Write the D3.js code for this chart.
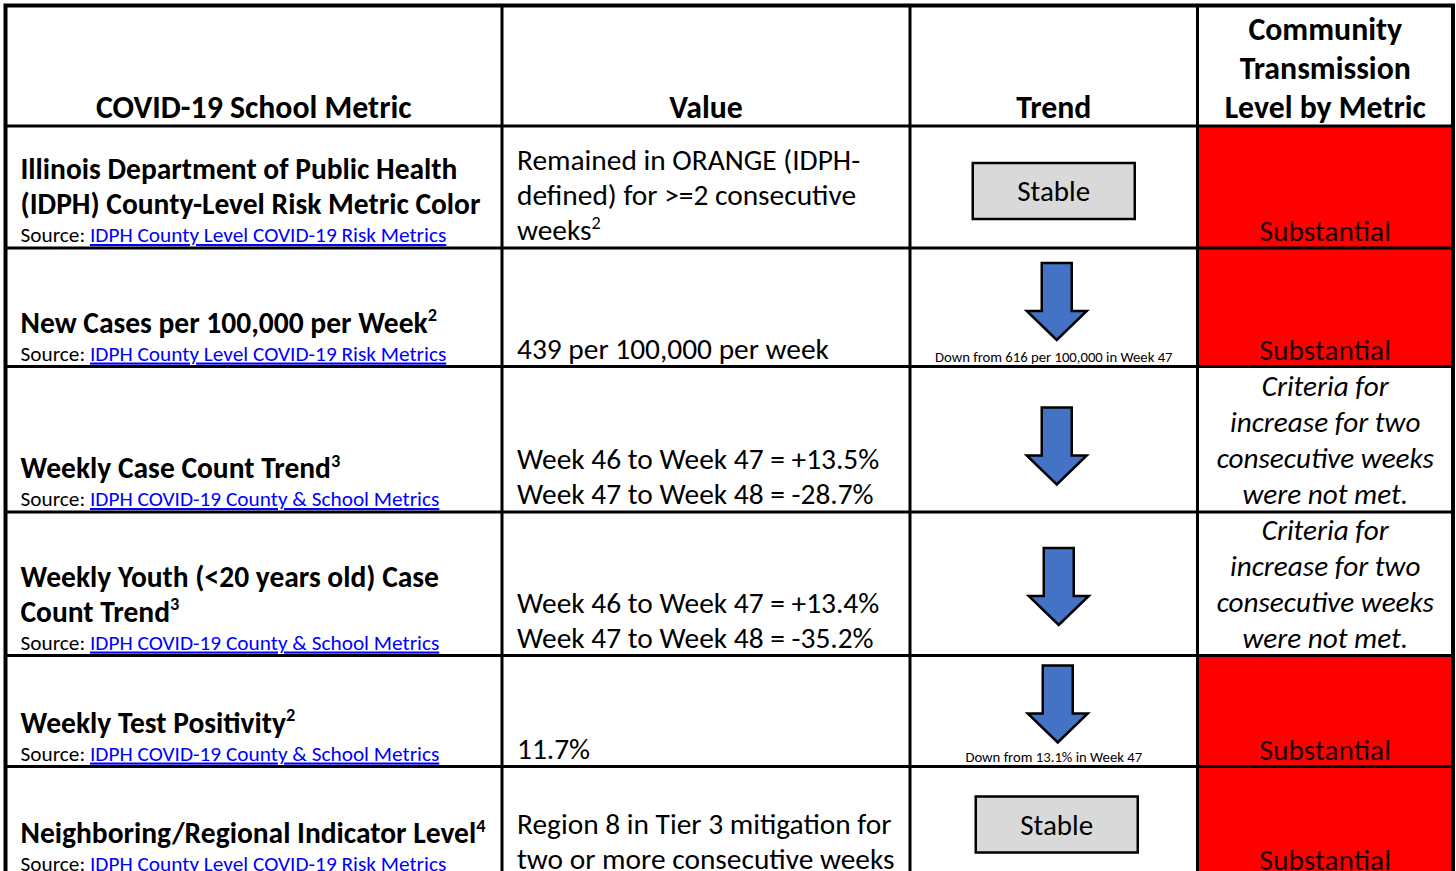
<!DOCTYPE html>
<html>
<head>
<meta charset="utf-8">
<script src="https://cdn.jsdelivr.net/npm/d3@7"></script>
<style>
    html, body { margin: 0; padding: 0; background: #fff; overflow: hidden; }
    svg { display: block; font-family: Calibri, Carlito, Lato, sans-serif; }
</style>
</head>
<body>
<svg width="1456" height="871"></svg>
<script>
// ---- table content ----
const headers = ['COVID-19 School Metric', 'Value', 'Trend', 'Community Transmission Level by Metric']
const headerLines = [['COVID-19 School Metric'], ['Value'], ['Trend'], ['Community', 'Transmission', 'Level by Metric']]

const metricNames = [
    ['Illinois Department of Public Health', '(IDPH) County-Level Risk Metric Color'],
    ['New Cases per 100,000 per Week'],
    ['Weekly Case Count Trend'],
    ['Weekly Youth (<20 years old) Case', 'Count Trend'],
    ['Weekly Test Positivity'],
    ['Neighboring/Regional Indicator Level'],
]
const metricFootnotes = ['', '2', '3', '3', '2', '4']
const sources = [
    'IDPH County Level COVID-19 Risk Metrics',
    'IDPH County Level COVID-19 Risk Metrics',
    'IDPH COVID-19 County & School Metrics',
    'IDPH COVID-19 County & School Metrics',
    'IDPH COVID-19 County & School Metrics',
    'IDPH County Level COVID-19 Risk Metrics',
]
const values = [
    ['Remained in ORANGE (IDPH-', 'defined) for >=2 consecutive', 'weeks'],
    ['439 per 100,000 per week'],
    ['Week 46 to Week 47 = +13.5%', 'Week 47 to Week 48 = -28.7%'],
    ['Week 46 to Week 47 = +13.4%', 'Week 47 to Week 48 = -35.2%'],
    ['11.7%'],
    ['Region 8 in Tier 3 mitigation for', 'two or more consecutive weeks'],
]
const valueFootnotes = ['2', '', '', '', '', '']
const trends = ['Stable', 'Down', 'Down', 'Down', 'Down', 'Stable']
const trendNotes = ['', 'Down from 616 per 100,000 in Week 47', '', '', 'Down from 13.1% in Week 47', '']
const levels = ['Substantial', 'Substantial', '', '', 'Substantial', 'Substantial']
const levelNotes = [
    [],
    [],
    ['Criteria for', 'increase for two', 'consecutive weeks', 'were not met.'],
    ['Criteria for', 'increase for two', 'consecutive weeks', 'were not met.'],
    [],
    [],
]

// ---- layout ----
const colEdges = [5.5, 502, 910, 1197.5, 1453]
const rowEdges = [5.5, 126, 248, 366.5, 512, 655.5, 766.5, 877]
const trendTop = [37, 15, 41, 36, 10, 30]      // offset of trend glyph from row top
const trendShift = [0, 3, 3, 5, 4, 3]          // horizontal nudge of trend glyph

const size = { header: 31.8, name: 29.5, value: 29.4, source: 21.3, note: 14.7, italic: 29.2, stable: 29, level: 29.4 }

const red = '#ff0000'
const blue = '#4472c4'
const link = '#0000ff'

const svg = d3.select('svg')
const rows = d3.range(metricNames.length + 1)

const x = d3.scaleOrdinal().domain(d3.range(colEdges.length)).range(colEdges)
const y = d3.scaleOrdinal().domain(d3.range(rowEdges.length)).range(rowEdges)
const colCenter = (c) => (x(c) + x(c + 1)) / 2

// ---- cell fills ----
const cells = svg.append('g').attr('class', 'cells')
cells.selectAll('rect.level')
    .data(levels.map((d, i) => ({ level: d, row: i + 1 })).filter((d) => d.level === 'Substantial'))
    .join('rect')
    .attr('class', 'level')
    .attr('x', x(3))
    .attr('y', (d) => y(d.row))
    .attr('width', x(4) - x(3))
    .attr('height', (d) => y(d.row + 1) - y(d.row))
    .attr('fill', red)

// ---- helper for multi-line bottom-aligned text ----
function lines(g, list, opts) {
    const n = list.length
    const t = g.append('text')
        .attr('font-size', opts.size)
        .attr('font-weight', opts.weight || 'normal')
        .attr('font-style', opts.style || 'normal')
        .attr('text-anchor', opts.anchor || 'start')
        .attr('fill', opts.fill || '#000')
    list.forEach((line, i) => {
        t.append('tspan')
            .attr('x', opts.x)
            .attr('y', opts.bottom - (n - 1 - i) * opts.lh)
            .text(line)
        if (i === n - 1 && opts.sup) {
            t.append('tspan')
                .attr('font-size', opts.size * 0.62)
                .attr('dy', -opts.size * 0.38)
                .text(opts.sup)
        }
    })
    return t
}

// ---- header ----
const head = svg.append('g').attr('class', 'header')
headerLines.forEach((list, c) => {
    lines(head, list, {
        x: colCenter(c), bottom: y(1) - 8, lh: 39, size: size.header, weight: 'bold', anchor: 'middle',
    })
})

// ---- body ----
const body = svg.append('g').attr('class', 'body')
metricNames.forEach((name, i) => {
    const r = i + 1
    const top = y(r)
    const bottom = y(r + 1)
    const g = body.append('g').attr('class', 'row')

    // metric name + source
    lines(g, name, {
        x: x(0) + 15, bottom: bottom - 34, lh: 35, size: size.name, weight: 'bold', sup: metricFootnotes[i],
    })
    const src = g.append('text')
        .attr('x', x(0) + 15)
        .attr('y', bottom - 6)
        .attr('font-size', size.source)
    src.append('tspan').text('Source: ')
    src.append('tspan').attr('fill', link).attr('text-decoration', 'underline').text(sources[i])

    // value
    lines(g, values[i], {
        x: x(1) + 15, bottom: bottom - 8, lh: 35, size: size.value, sup: valueFootnotes[i],
    })

    // trend
    const cx = colCenter(2) + trendShift[i]
    if (trends[i] === 'Stable') {
        g.append('rect')
            .attr('x', cx - 81)
            .attr('y', top + trendTop[i])
            .attr('width', 162)
            .attr('height', 56)
            .attr('fill', '#d9d9d9')
            .attr('stroke', '#000')
            .attr('stroke-width', 2.5)
        g.append('text')
            .attr('x', cx)
            .attr('y', top + trendTop[i] + 38)
            .attr('text-anchor', 'middle')
            .attr('font-size', size.stable)
            .text('Stable')
    } else {
        const t = top + trendTop[i]
        const arrow = d3.path()
        arrow.moveTo(cx - 15, t)
        arrow.lineTo(cx + 15, t)
        arrow.lineTo(cx + 15, t + 48)
        arrow.lineTo(cx + 30, t + 48)
        arrow.lineTo(cx, t + 77)
        arrow.lineTo(cx - 30, t + 48)
        arrow.lineTo(cx - 15, t + 48)
        arrow.closePath()
        g.append('path')
            .attr('d', arrow.toString())
            .attr('fill', blue)
            .attr('stroke', '#000')
            .attr('stroke-width', 2.5)
    }
    if (trendNotes[i]) {
        g.append('text')
            .attr('x', colCenter(2))
            .attr('y', bottom - 5)
            .attr('text-anchor', 'middle')
            .attr('font-size', size.note)
            .text(trendNotes[i])
    }

    // community level
    if (levels[i]) {
        g.append('text')
            .attr('x', colCenter(3))
            .attr('y', bottom - 7)
            .attr('text-anchor', 'middle')
            .attr('font-size', size.level)
            .attr('fill', '#1a0000')
            .text(levels[i])
    } else {
        lines(g, levelNotes[i], {
            x: colCenter(3), bottom: bottom - 8, lh: 36, size: size.italic, style: 'italic', anchor: 'middle',
        })
    }
})

// ---- grid lines ----
const grid = svg.append('g').attr('class', 'grid').attr('stroke', '#000')
grid.selectAll('line.h')
    .data(rows.slice(1))
    .join('line')
    .attr('class', 'h')
    .attr('x1', x(0))
    .attr('x2', x(4))
    .attr('y1', (r) => y(r))
    .attr('y2', (r) => y(r))
    .attr('stroke-width', 3)
grid.selectAll('line.v')
    .data([1, 2, 3])
    .join('line')
    .attr('class', 'v')
    .attr('x1', (c) => x(c))
    .attr('x2', (c) => x(c))
    .attr('y1', y(0))
    .attr('y2', 880)
    .attr('stroke-width', 3)
grid.append('path')
    .attr('d', `M${x(0)},880V${y(0)}H${x(4)}V880`)
    .attr('fill', 'none')
    .attr('stroke-width', 4)
</script>
</body>
</html>
